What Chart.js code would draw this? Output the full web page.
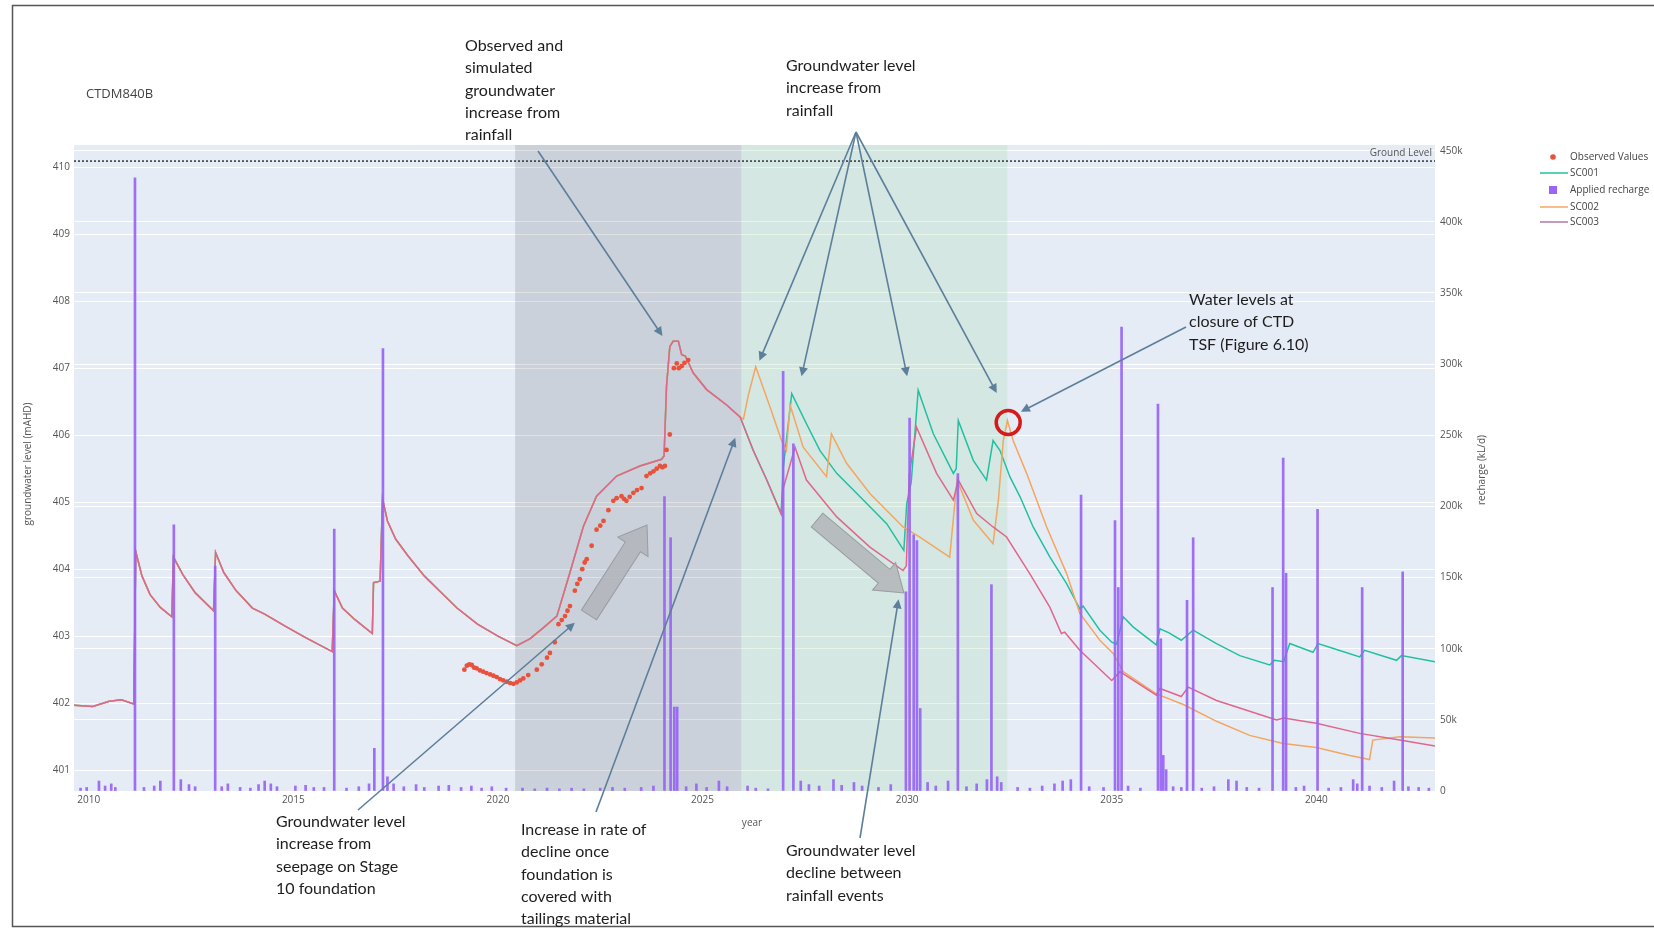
<!DOCTYPE html>
<html>
<head>
<meta charset="utf-8">
<title>CTDM840B</title>
<script src="https://cdn.jsdelivr.net/npm/chart.js@4.4.1/dist/chart.umd.min.js"></script>
<style>
  html, body { margin: 0; padding: 0; background: #fff; }
  #wrap { width: 1654px; height: 928px; }
</style>
</head>
<body>
<div id="wrap"><canvas id="gw" width="1654" height="928"></canvas></div>
<script>
// ---- data ----
var groundLevel = 410.09;

// simulated level before the scenarios split (all three runs share it)
var histYears = [2009.64, 2010.1, 2010.5, 2010.8, 2011.1, 2011.15, 2011.3, 2011.5, 2011.75, 2012.03, 2012.07, 2012.3, 2012.6,
  2013.05, 2013.1, 2013.3, 2013.6, 2014.0, 2014.3, 2014.8, 2015.3, 2015.95, 2016.0, 2016.2, 2016.5, 2016.93, 2016.96,
  2017.12, 2017.18, 2017.3, 2017.5, 2017.8, 2018.2, 2018.6, 2019.0, 2019.5, 2020.0, 2020.46, 2020.78, 2021.1, 2021.44,
  2021.76, 2022.09, 2022.41, 2022.9, 2023.47, 2024.0, 2024.06, 2024.12, 2024.2, 2024.28, 2024.41, 2024.49, 2024.58,
  2024.68, 2024.77, 2025.1, 2025.59, 2025.92];
var histLevels = [401.97, 401.95, 402.03, 402.05, 401.99, 404.26, 403.9, 403.62, 403.43, 403.29, 404.18, 403.92, 403.65,
  403.38, 404.25, 403.95, 403.68, 403.42, 403.33, 403.15, 402.98, 402.77, 403.68, 403.42, 403.25, 403.04, 403.8,
  403.82, 405.05, 404.72, 404.45, 404.2, 403.9, 403.66, 403.42, 403.18, 403.0, 402.86, 402.96, 403.12, 403.3,
  403.95, 404.64, 405.09, 405.39, 405.54, 405.64, 405.69, 406.73, 407.32, 407.4, 407.4, 407.2, 407.18,
  407.05, 406.93, 406.68, 406.45, 406.27];

var sc001Years = [2026.24, 2026.57, 2026.92, 2026.97, 2027.18, 2027.54, 2027.87, 2028.28, 2028.85, 2029.5, 2029.92, 2029.99,
  2030.1, 2030.27, 2030.64, 2031.13, 2031.2, 2031.25, 2031.62, 2031.94, 2032.1, 2032.27, 2032.51, 2032.76, 2033.08,
  2033.49, 2033.9, 2034.22, 2034.3, 2034.71, 2035.0, 2035.12, 2035.28, 2035.52, 2036.09, 2036.18, 2036.4, 2036.7,
  2036.99, 2037.56, 2038.13, 2038.86, 2038.98, 2039.2, 2039.35, 2039.92, 2040.04, 2040.4, 2041.06, 2041.18, 2041.96,
  2042.08, 2042.9];
var sc001Levels = [405.77, 405.33, 404.83, 405.5, 406.62, 406.17, 405.77, 405.43, 405.08, 404.68, 404.28, 404.98,
  405.3, 406.67, 406.02, 405.43, 405.5, 406.22, 405.62, 405.33, 405.92, 405.77, 405.38, 405.08, 404.63,
  404.18, 403.78, 403.41, 403.45, 403.09, 402.91, 402.88, 403.29, 403.14, 402.87, 403.11, 403.05, 402.94,
  403.09, 402.89, 402.71, 402.57, 402.64, 402.62, 402.89, 402.76, 402.89, 402.82, 402.69, 402.79, 402.64,
  402.71, 402.62];

var sc002Years = [2026.0, 2026.12, 2026.3, 2026.65, 2026.93, 2027.05, 2027.14, 2027.46, 2028.03, 2028.15, 2028.52, 2029.09,
  2029.9, 2030.31, 2031.04, 2031.22, 2031.62, 2032.1, 2032.23, 2032.35, 2032.45, 2032.59, 2032.92, 2033.41, 2033.9,
  2034.22, 2034.71, 2035.04, 2035.28, 2036.09, 2036.75, 2037.56, 2038.37, 2039.19, 2040.0, 2040.82, 2041.3, 2041.38,
  2042.04, 2042.9];
var sc002Levels = [406.24, 406.6, 407.02, 406.42, 405.92, 405.77, 406.45, 405.82, 405.38, 406.02, 405.58, 405.13,
  404.63, 404.48, 404.18, 405.33, 404.73, 404.38, 405.03, 405.92, 406.22, 405.92, 405.43, 404.63, 403.93,
  403.34, 402.94, 402.74, 402.47, 402.14, 401.98, 401.73, 401.52, 401.4, 401.34, 401.22, 401.16, 401.45,
  401.5, 401.48];

var sc003Years = [2026.24, 2026.57, 2026.92, 2026.97, 2027.26, 2027.54, 2028.28, 2029.09, 2029.9, 2029.98, 2030.05, 2030.23,
  2030.72, 2031.13, 2031.25, 2031.7, 2032.1, 2032.43, 2033.0, 2033.49, 2033.77, 2033.85, 2034.22, 2035.0, 2035.2,
  2036.09, 2036.18, 2036.7, 2036.87, 2037.56, 2039.03, 2039.2, 2040.0, 2041.06, 2042.04, 2042.9];
var sc003Levels = [405.77, 405.33, 404.83, 405.2, 405.82, 405.33, 404.78, 404.33, 403.98, 404.05, 405.4, 406.12,
  405.43, 405.03, 405.33, 404.83, 404.63, 404.48, 403.93, 403.43, 403.04, 403.06, 402.79, 402.34, 402.47,
  402.12, 402.22, 402.1, 402.24, 402.04, 401.75, 401.78, 401.7, 401.55, 401.45, 401.36];

var obsYears = [2019.18, 2019.24, 2019.3, 2019.36, 2019.42, 2019.48, 2019.56, 2019.64, 2019.72, 2019.81, 2019.89, 2019.97,
  2020.05, 2020.13, 2020.22, 2020.3, 2020.38, 2020.46, 2020.54, 2020.62, 2020.74, 2020.95, 2021.07, 2021.2, 2021.27,
  2021.39, 2021.48, 2021.56, 2021.64, 2021.7, 2021.76, 2021.88, 2021.94, 2022.0, 2022.06, 2022.12, 2022.17, 2022.29,
  2022.41, 2022.5, 2022.58, 2022.7, 2022.82, 2022.9, 2023.02, 2023.08, 2023.14, 2023.22, 2023.31, 2023.4, 2023.51,
  2023.63, 2023.72, 2023.8, 2023.88, 2023.96, 2024.02, 2024.08, 2024.12, 2024.2, 2024.3, 2024.37, 2024.42, 2024.49,
  2024.56, 2024.65];
var obsLevels = [402.5, 402.56, 402.58, 402.57, 402.53, 402.52, 402.49, 402.47, 402.45, 402.43, 402.41, 402.39,
  402.36, 402.34, 402.32, 402.3, 402.29, 402.31, 402.34, 402.37, 402.42, 402.5, 402.58, 402.68, 402.75,
  402.91, 403.18, 403.24, 403.3, 403.38, 403.45, 403.68, 403.78, 403.85, 404.0, 404.1, 404.15, 404.35,
  404.59, 404.65, 404.72, 404.88, 405.02, 405.06, 405.09, 405.05, 405.02, 405.08, 405.14, 405.18, 405.21,
  405.39, 405.43, 405.46, 405.5, 405.54, 405.52, 405.54, 405.78, 406.01, 407.0, 407.07, 407.0, 407.03,
  407.08, 407.12];

// applied recharge (kL/d): the big events, then the small background ones
var rechargeYears = [2011.13, 2012.08, 2013.09, 2016.0, 2016.98, 2017.19, 2024.07, 2024.22, 2024.31, 2024.38, 2026.97,
  2027.22, 2029.97, 2030.06, 2030.16, 2030.24, 2030.32, 2031.24, 2032.06, 2034.25, 2035.08, 2035.16, 2035.24, 2036.13,
  2036.2, 2036.26, 2036.33, 2036.84, 2036.99, 2038.93, 2039.19, 2039.26, 2040.03, 2041.12, 2042.11];
var rechargeValues = [431000, 187000, 158000, 184000, 30000, 311000, 207000, 178000, 59000, 59000, 295000,
  244000, 140000, 262000, 180000, 176000, 58000, 223000, 145000, 208000, 190000, 143000, 326000, 272000,
  107000, 25000, 15000, 134000, 178000, 143000, 234000, 153000, 198000, 143000, 154000];
var smallYears = [2009.8, 2009.95, 2010.25, 2010.4, 2010.55, 2010.65, 2011.35, 2011.6, 2011.75, 2012.25, 2012.45, 2012.6,
  2013.25, 2013.4, 2013.7, 2013.95, 2014.15, 2014.3, 2014.45, 2014.6, 2015.05, 2015.3, 2015.5, 2015.75, 2016.3, 2016.6,
  2016.85, 2017.3, 2017.45, 2017.7, 2018.0, 2018.2, 2018.55, 2018.8, 2019.1, 2019.35, 2019.6, 2019.85, 2020.2, 2020.6,
  2020.9, 2021.2, 2021.5, 2021.8, 2022.1, 2022.5, 2022.8, 2023.1, 2023.5, 2023.8, 2024.6, 2024.85, 2025.1, 2025.4,
  2025.6, 2026.1, 2026.3, 2026.6, 2027.4, 2027.6, 2027.85, 2028.2, 2028.4, 2028.7, 2028.9, 2029.3, 2029.6, 2030.5,
  2030.7, 2031.0, 2031.45, 2031.7, 2031.95, 2032.2, 2032.3, 2032.7, 2033.0, 2033.3, 2033.6, 2033.8, 2034.0, 2034.45,
  2034.8, 2035.4, 2035.7, 2036.5, 2036.7, 2037.2, 2037.5, 2037.85, 2038.05, 2038.3, 2038.6, 2039.5, 2039.7, 2040.3,
  2040.6, 2040.9, 2041.0, 2041.3, 2041.6, 2041.9, 2042.25, 2042.5, 2042.75];
var smallValues = [2000, 2500, 7000, 3500, 5000, 2500, 2500, 3500, 7000, 8000, 4500, 3000,
  3000, 5000, 2500, 2000, 4500, 7000, 5000, 3000, 3500, 4000, 2500, 2500, 2000, 3000,
  5000, 10000, 5000, 3000, 4500, 2500, 3500, 4000, 2500, 3500, 2000, 3000, 2000, 2000,
  1500, 2000, 1500, 2000, 1500, 2000, 2500, 2000, 2500, 3500, 3000, 5000, 2500, 7000,
  3000, 3500, 2000, 1500, 7000, 4500, 3500, 8000, 4000, 6000, 3500, 2500, 4500, 6000,
  3500, 7000, 3000, 5000, 8000, 10000, 6000, 2500, 2000, 3500, 5000, 7000, 8000, 3000,
  2500, 3500, 2000, 3000, 2500, 2000, 3000, 8000, 7000, 2500, 2000, 2500, 3500, 2000,
  2500, 8000, 5000, 3500, 2500, 7000, 3000, 2500, 2000];

var xMin = 2009.64, xMax = 2042.9;
var levelMin = 400.69, levelMax = 410.33;
var rechargeMax = 454000, rechargeStep = 50000;

// shaded periods
var bands = [
  { from: 2020.42, to: 2025.95, color: 'rgba(100,105,115,0.2)' },
  { from: 2025.95, to: 2032.45, color: 'rgba(170,220,175,0.28)' }
];

// callouts: text in page pixels, arrow tips in data units
var notes = [
  { lines: ['Observed and', 'simulated', 'groundwater', 'increase from', 'rainfall'], x: 465, y: 46, from: [538, 151], tips: [[2024.02, 407.48]] },
  { lines: ['Groundwater level', 'increase from', 'rainfall'], x: 786, y: 66, from: [856, 132],
    tips: [[2026.39, 407.11], [2027.42, 406.88], [2030.0, 406.88], [2032.19, 406.63]] },
  { lines: ['Water levels at', 'closure of CTD', 'TSF (Figure 6.10)'], x: 1189, y: 300, from: [1186, 327], tips: [[2032.78, 406.35]] },
  { lines: ['Groundwater level', 'increase from', 'seepage on Stage', '10 foundation'], x: 276, y: 822, from: [358, 810], tips: [[2021.88, 403.2]] },
  { lines: ['Increase in rate of', 'decline once', 'foundation is', 'covered with', 'tailings material'], x: 521, y: 830, from: [596, 812], tips: [[2025.8, 405.96]] },
  { lines: ['Groundwater level', 'decline between', 'rainfall events'], x: 786, y: 851, from: [860, 838], tips: [[2029.79, 403.55]] }
];
var closureMark = [2032.47, 406.19];

function pts(xs, ys) {
  return xs.map(function (x, i) { return { x: x, y: ys[i] }; });
}

function arrowLine(ctx, x1, y1, x2, y2) {
  var ang = Math.atan2(y2 - y1, x2 - x1), hl = 9, hw = 4.5;
  ctx.beginPath();
  ctx.moveTo(x1, y1);
  ctx.lineTo(x2 - Math.cos(ang) * hl * 0.8, y2 - Math.sin(ang) * hl * 0.8);
  ctx.stroke();
  ctx.beginPath();
  ctx.moveTo(x2, y2);
  ctx.lineTo(x2 - Math.cos(ang) * hl - Math.sin(ang) * hw, y2 - Math.sin(ang) * hl + Math.cos(ang) * hw);
  ctx.lineTo(x2 - Math.cos(ang) * hl + Math.sin(ang) * hw, y2 - Math.sin(ang) * hl - Math.cos(ang) * hw);
  ctx.closePath();
  ctx.fill();
}

function blockArrow(ctx, x1, y1, x2, y2) {
  var ang = Math.atan2(y2 - y1, x2 - x1), len = Math.hypot(x2 - x1, y2 - y1);
  var sw = 9, hw = 18, hl = 26;
  ctx.save();
  ctx.translate(x1, y1);
  ctx.rotate(ang);
  ctx.beginPath();
  ctx.moveTo(0, -sw);
  ctx.lineTo(len - hl, -sw);
  ctx.lineTo(len - hl, -hw);
  ctx.lineTo(len, 0);
  ctx.lineTo(len - hl, hw);
  ctx.lineTo(len - hl, sw);
  ctx.lineTo(0, sw);
  ctx.closePath();
  ctx.fillStyle = 'rgba(178,180,184,0.85)';
  ctx.fill();
  ctx.strokeStyle = 'rgba(150,152,156,0.9)';
  ctx.lineWidth = 1;
  ctx.stroke();
  ctx.restore();
}

var decor = {
  id: 'decor',
  beforeDraw: function (chart) {
    var ctx = chart.ctx, a = chart.chartArea;
    ctx.save();
    ctx.fillStyle = '#ffffff';
    ctx.fillRect(0, 0, chart.width, chart.height);
    ctx.fillStyle = '#e5ecf6';
    ctx.fillRect(a.left, a.top, a.right - a.left, a.bottom - a.top);
    ctx.restore();
  },
  beforeDatasetsDraw: function (chart) {
    var ctx = chart.ctx, a = chart.chartArea, x = chart.scales.x;
    ctx.save();
    bands.forEach(function (b) {
      var x1 = x.getPixelForValue(b.from), x2 = x.getPixelForValue(b.to);
      ctx.fillStyle = b.color;
      ctx.fillRect(x1, a.top, x2 - x1, a.bottom - a.top);
    });
    ctx.restore();
  },
  afterDraw: function (chart) {
    var ctx = chart.ctx, a = chart.chartArea, sx = chart.scales.x, sy = chart.scales.y;
    ctx.save();

    // frame of the figure
    ctx.strokeStyle = '#555';
    ctx.lineWidth = 1.5;
    ctx.strokeRect(12.5, 5.5, 1700, 921);

    // title
    ctx.fillStyle = '#444';
    ctx.font = '13px "Open Sans"';
    ctx.textBaseline = 'middle';
    ctx.fillText('CTDM840B', 86, 94);

    // axis titles
    ctx.font = '10px "Open Sans"';
    ctx.fillStyle = '#555';
    ctx.textAlign = 'center';
    ctx.fillText('year', 752, 823);
    ctx.save();
    ctx.translate(28, 464);
    ctx.rotate(-Math.PI / 2);
    ctx.fillText('groundwater level (mAHD)', 0, 0);
    ctx.restore();
    ctx.save();
    ctx.translate(1482, 470);
    ctx.rotate(-Math.PI / 2);
    ctx.fillText('recharge (kL/d)', 0, 0);
    ctx.restore();

    // ground level label
    ctx.textAlign = 'right';
    ctx.fillText('Ground Level', a.right - 3, sy.getPixelForValue(groundLevel) - 8);

    // legend
    ctx.textAlign = 'left';
    ctx.font = '10px "Open Sans"';
    var lx = 1540, tx = 1570;
    var rows = [157, 173, 190, 207, 222];
    ctx.fillStyle = '#e8513b';
    ctx.beginPath(); ctx.arc(1553, rows[0], 2.8, 0, Math.PI * 2); ctx.fill();
    ctx.lineWidth = 1.5;
    ctx.strokeStyle = '#22c0a0';
    ctx.beginPath(); ctx.moveTo(lx, rows[1]); ctx.lineTo(lx + 28, rows[1]); ctx.stroke();
    ctx.fillStyle = '#9b64f5';
    ctx.fillRect(1549, rows[2] - 4, 8, 8);
    ctx.strokeStyle = '#f4a660';
    ctx.beginPath(); ctx.moveTo(lx, rows[3]); ctx.lineTo(lx + 28, rows[3]); ctx.stroke();
    ctx.strokeStyle = '#b07aa8';
    ctx.beginPath(); ctx.moveTo(lx, rows[4]); ctx.lineTo(lx + 28, rows[4]); ctx.stroke();
    ctx.fillStyle = '#444';
    ['Observed Values', 'SC001', 'Applied recharge', 'SC002', 'SC003'].forEach(function (t, i) {
      ctx.fillText(t, tx, rows[i]);
    });

    // grey trend arrows
    blockArrow(ctx, 589, 615, 647, 525);
    blockArrow(ctx, 817, 520, 904, 593);

    // closure marker
    ctx.strokeStyle = '#d41a1a';
    ctx.lineWidth = 3.5;
    ctx.beginPath();
    ctx.arc(sx.getPixelForValue(closureMark[0]), sy.getPixelForValue(closureMark[1]), 12, 0, Math.PI * 2);
    ctx.stroke();

    // callouts
    ctx.strokeStyle = '#5d7f9c';
    ctx.fillStyle = '#5d7f9c';
    ctx.lineWidth = 1.6;
    notes.forEach(function (n) {
      n.tips.forEach(function (t) {
        arrowLine(ctx, n.from[0], n.from[1], sx.getPixelForValue(t[0]), sy.getPixelForValue(t[1]));
      });
    });
    ctx.fillStyle = '#1e1e1e';
    ctx.font = '16px Lato';
    ctx.textBaseline = 'middle';
    notes.forEach(function (n) {
      n.lines.forEach(function (l, i) {
        ctx.fillText(l, n.x, n.y + i * 22.3);
      });
    });
    ctx.restore();
  }
};

var tickFont = { family: 'Open Sans', size: 10 };

new Chart(document.getElementById('gw'), {
  type: 'line',
  data: {
    datasets: [
      {
        type: 'bar', label: 'Applied recharge', yAxisID: 'y2',
        data: pts(rechargeYears.concat(smallYears), rechargeValues.concat(smallValues)),
        backgroundColor: 'rgba(150,98,245,0.9)', barThickness: 2, order: 0
      },
      {
        type: 'scatter', label: 'Observed Values', yAxisID: 'y',
        data: pts(obsYears, obsLevels),
        backgroundColor: '#e8513b', borderWidth: 0, pointRadius: 2.4, order: 1
      },
      {
        label: 'SC003', yAxisID: 'y', data: pts(histYears.concat(sc003Years), histLevels.concat(sc003Levels)),
        borderColor: '#e0668a', borderWidth: 1.5, pointRadius: 0, tension: 0, order: 2
      },
      {
        label: 'SC002', yAxisID: 'y', data: pts(histYears.concat(sc002Years), histLevels.concat(sc002Levels)),
        borderColor: '#f4a660', borderWidth: 1.5, pointRadius: 0, tension: 0, order: 3
      },
      {
        label: 'SC001', yAxisID: 'y', data: pts(histYears.concat(sc001Years), histLevels.concat(sc001Levels)),
        borderColor: '#22c0a0', borderWidth: 1.5, pointRadius: 0, tension: 0, order: 4
      },
      {
        label: 'Ground Level', yAxisID: 'y', data: pts([xMin, xMax], [groundLevel, groundLevel]),
        borderColor: '#333', borderWidth: 1.5, borderDash: [2, 2], pointRadius: 0, order: 5
      }
    ]
  },
  options: {
    responsive: false,
    devicePixelRatio: 1,
    animation: false,
    layout: { padding: { left: 0, top: 145, right: 159, bottom: 97 } },
    plugins: { legend: { display: false }, tooltip: { enabled: false } },
    scales: {
      x: {
        type: 'linear', min: xMin, max: xMax, offset: false,
        grid: { display: false, drawTicks: false },
        border: { display: false },
        ticks: { stepSize: 5, includeBounds: false, font: tickFont, color: '#555', padding: 3, maxRotation: 0,
          callback: function (v) { return String(v); } },
        afterFit: function (s) { s.height = 40; }
      },
      y: {
        position: 'left', min: levelMin, max: levelMax,
        grid: { color: '#ffffff', lineWidth: 1, drawTicks: false },
        border: { display: false },
        ticks: { stepSize: 1, includeBounds: false, font: tickFont, color: '#555', padding: 4 },
        afterFit: function (s) { s.width = 74; }
      },
      y2: {
        position: 'right', min: 0, max: rechargeMax,
        grid: { color: '#ffffff', lineWidth: 1, drawTicks: false },
        border: { display: false },
        ticks: { font: tickFont, color: '#555', padding: 5,
          callback: function (v) { return v === 0 ? '0' : (v / 1000) + 'k'; } },
        afterBuildTicks: function (s) {
          var t = [];
          for (var v = 0; v <= rechargeMax; v += rechargeStep) t.push({ value: v });
          s.ticks = t;
        },
        afterFit: function (s) { s.width = 60; }
      }
    }
  },
  plugins: [decor]
});
</script>
</body>
</html>
